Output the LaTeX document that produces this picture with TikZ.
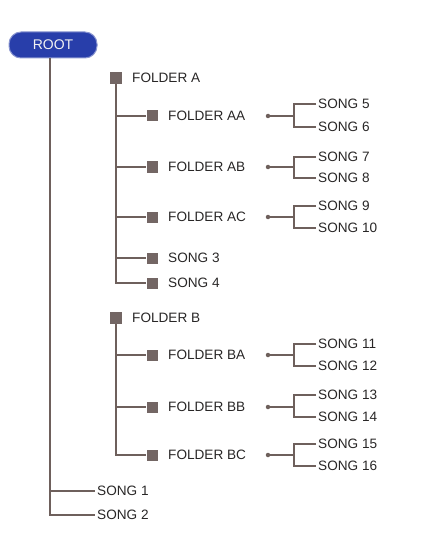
\documentclass[tikz,border=0pt]{standalone}
\usepackage{fontspec}
\setmainfont{Liberation Sans}
\usepackage{tikz}
\usetikzlibrary{positioning,calc}
\definecolor{rootBlue}{RGB}{40,62,170}
\definecolor{treeLine}{RGB}{110,96,92}
\definecolor{boxGray}{RGB}{115,102,100}
\definecolor{txtGray}{RGB}{40,38,38}

\begin{document}
\begin{tikzpicture}[x=1pt,y=-1pt,
  rootbox/.style={rectangle,draw=rootBlue!55!white,line width=1pt,fill=rootBlue,
                  rounded corners=12pt,minimum width=88pt,minimum height=26pt,
                  text=white!90!gray,font=\fontsize{14}{16}\selectfont},
  sq/.style={rectangle,fill=boxGray,minimum size=11pt,inner sep=0pt},
  lbl/.style={anchor=west,inner sep=2pt,text=txtGray,font=\fontsize{13.6}{15}\selectfont},
  dot/.style={circle,fill=treeLine,minimum size=4.5pt,inner sep=0pt},
  ln/.style={draw=treeLine,line width=1.3pt}
]
  \useasboundingbox (0,0) rectangle (420,556);

  \node[rootbox](root) at (53,45) {ROOT};

  \node[sq,minimum size=12pt](fa) at (116,78) {};
  \node[lbl](fa-t) at (130,78) {FOLDER A};
  \node[sq](faa) at (152,116) {};
  \node[lbl](faa-t) at (166,116) {FOLDER AA};
  \node[sq](fab) at (152,167) {};
  \node[lbl](fab-t) at (166,167) {FOLDER AB};
  \node[sq](fac) at (152,217) {};
  \node[lbl](fac-t) at (166,217) {FOLDER AC};
  \node[sq](s3) at (152,258) {};
  \node[lbl](s3-t) at (166,258) {SONG 3};
  \node[sq](s4) at (152,283) {};
  \node[lbl](s4-t) at (166,283) {SONG 4};

  \node[sq,minimum size=12pt](fb) at (116,318) {};
  \node[lbl](fb-t) at (130,318) {FOLDER B};
  \node[sq](fba) at (152,355) {};
  \node[lbl](fba-t) at (166,355) {FOLDER BA};
  \node[sq](fbb) at (152,407) {};
  \node[lbl](fbb-t) at (166,407) {FOLDER BB};
  \node[sq](fbc) at (152,455) {};
  \node[lbl](fbc-t) at (166,455) {FOLDER BC};

  \node[lbl](s1) at (95,491) {SONG 1};
  \node[lbl](s2) at (95,515) {SONG 2};

  \node[dot](daa) at (268,116) {};
  \node[dot](dab) at (268,167) {};
  \node[dot](dac) at (268,217) {};
  \node[dot](dba) at (268,355) {};
  \node[dot](dbb) at (268,407) {};
  \node[dot](dbc) at (268,455) {};

  \node[lbl](s5) at (316,104) {SONG 5};
  \node[lbl](s6) at (316,127) {SONG 6};
  \node[lbl](s7) at (316,157) {SONG 7};
  \node[lbl](s8) at (316,178) {SONG 8};
  \node[lbl](s9) at (316,206) {SONG 9};
  \node[lbl](s10) at (316,228) {SONG 10};
  \node[lbl](s11) at (316,344) {SONG 11};
  \node[lbl](s12) at (316,366) {SONG 12};
  \node[lbl](s13) at (316,395) {SONG 13};
  \node[lbl](s14) at (316,417) {SONG 14};
  \node[lbl](s15) at (316,444) {SONG 15};
  \node[lbl](s16) at (316,466) {SONG 16};

  \draw[ln]([xshift=-3pt]root.south)|-(s2.west);
  \draw[ln]([xshift=-3pt]root.south |- s1)--(s1.west);
  \draw[ln](fa.south)|-(s4.west);
  \foreach \n in {faa,fab,fac,s3}
    \draw[ln](fa.south |- \n)--(\n.west);
  \draw[ln](fb.south)|-(fbc.west);
  \foreach \n in {fba,fbb}
    \draw[ln](fb.south |- \n)--(\n.west);

  \foreach \d/\a/\b in {daa/s5/s6,dab/s7/s8,dac/s9/s10,dba/s11/s12,dbb/s13/s14,dbc/s15/s16}{
    \draw[ln](\d.center)--($(\d.center)+(26,0)$);
    \draw[ln](\a.west)--++(-22,0)|-(\b.west);
  }
\end{tikzpicture}
\end{document}
